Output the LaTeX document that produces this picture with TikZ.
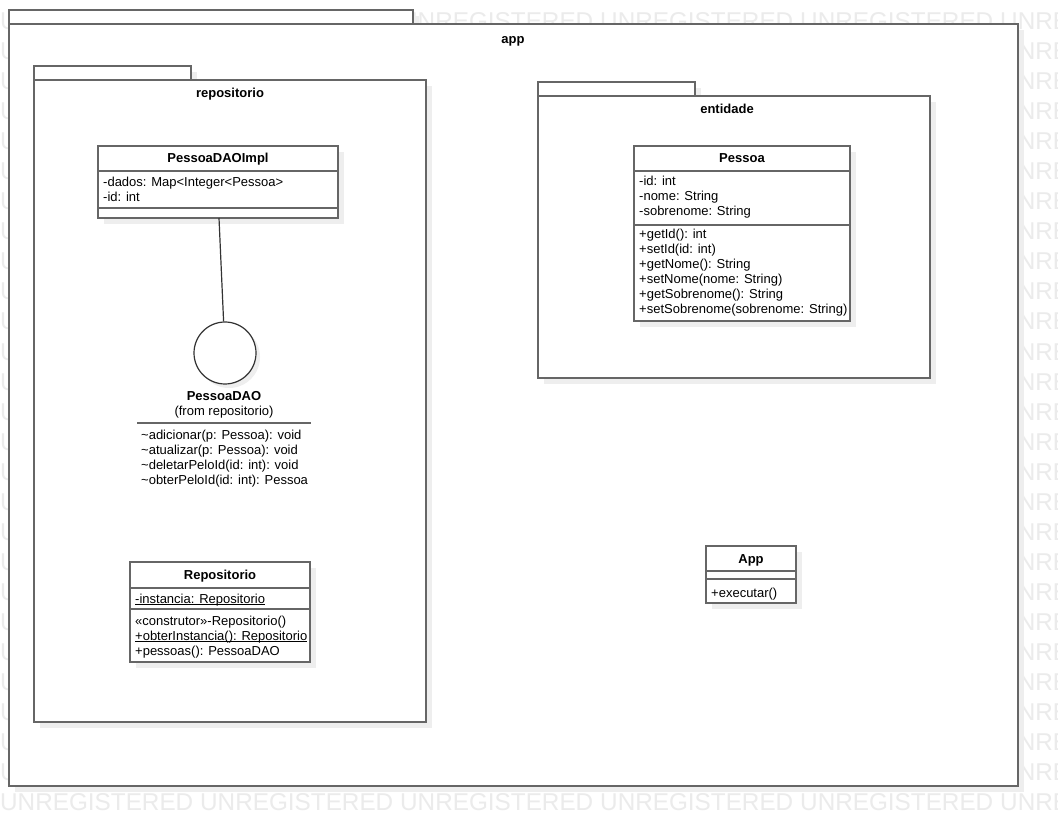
\documentclass[tikz,border=0pt]{standalone}
\usepackage{fontspec}
\setmainfont{Liberation Sans}
\definecolor{ln}{HTML}{666666}
\definecolor{wm}{HTML}{EBEBEB}
\definecolor{sh}{HTML}{EEEEEE}
\tikzset{
  pkgline/.style={draw=ln, line width=1.6pt, fill=white},
  box/.style={draw=ln, line width=1.6pt, fill=white, inner sep=0pt, outer sep=0pt, anchor=north west},
  divider/.style={draw=ln, line width=1.6pt},
  uline/.style={draw=black, line width=0.8pt},
  shade/.style={fill=sh},
  txt/.style={anchor=base west, inner sep=0pt, font=\fontsize{13}{15}\selectfont},
  ttl/.style={anchor=base, inner sep=0pt, font=\fontsize{13}{15}\selectfont\bfseries},
  sub/.style={anchor=base, inner sep=0pt, font=\fontsize{13}{15}\selectfont},
  wmark/.style={anchor=base west, inner sep=0pt, text=wm, font=\fontsize{24.3}{24.3}\selectfont},
  iface/.style={circle, draw=black!80, line width=1.2pt, fill=white, minimum size=62pt, inner sep=0pt},
  link/.style={draw=black!80, line width=1.2pt},
}
\begin{document}
\begin{tikzpicture}[x=1pt, y=-1pt]
\useasboundingbox (0,0) rectangle (1058,826);
\fill[white] (0,0) rectangle (1058,826);
% watermark
\foreach \r in {0,...,26} {
  \foreach \c in {0,...,5} {
    \node[wmark] (wm-\r-\c) at (200*\c, 30+30*\r) {UNREGISTERED};
  }
}
% ---------------- app package
\fill[shade] (15,16) rectangle (419,30);
\fill[shade] (15,30) rectangle (1024,792);
\draw[pkgline] (9,10) rectangle (413,24);
\node[box, minimum width=1009pt, minimum height=762pt] (app) at (9,24) {};
\node[ttl] (applbl) at (513,44) {app};
% ---------------- repositorio package
\fill[shade] (40,72) rectangle (197,86);
\fill[shade] (40,86) rectangle (432,728);
\draw[pkgline] (34,66) rectangle (191,80);
\node[box, minimum width=392pt, minimum height=642pt] (repo) at (34,80) {};
\node[ttl] (repolbl) at (230,98) {repositorio};
% ---------------- entidade package
\fill[shade] (544,88) rectangle (701,102);
\fill[shade] (544,102) rectangle (936,384);
\draw[pkgline] (538,82) rectangle (695,96);
\node[box, minimum width=392pt, minimum height=282pt] (ent) at (538,96) {};
\node[ttl] (entlbl) at (727,114) {entidade};
% ---------------- PessoaDAOImpl
\fill[shade] (104,152) rectangle (344,224);
\node[box, minimum width=240pt, minimum height=72pt] (impl) at (98,146) {};
\draw[divider] (98,171) -- (338,171);
\draw[divider] (98,208) -- (338,208);
\node[ttl] (impln) at (218,163) {PessoaDAOImpl};
\node[txt] (impla1) at (103,187) {-dados: Map<Integer<Pessoa>};
\node[txt] (impla2) at (103,202) {-id: int};
% ---------------- PessoaDAO interface
\fill[shade] (229,357) circle (31);
\node[iface] (dao) at (225,353) {};
\coordinate (implbot) at (219,218);
\draw[link] (implbot) -- (dao);
\node[ttl] (daon) at (224,400) {PessoaDAO};
\node[sub] (daof) at (224,415) {(from repositorio)};
\coordinate (daol) at (137,423);
\coordinate (daor) at (311,423);
\draw[divider] (daol) -- (daor);
\node[txt] (dao1) at (141,439) {\textasciitilde adicionar(p: Pessoa): void};
\node[txt] (dao2) at (141,454) {\textasciitilde atualizar(p: Pessoa): void};
\node[txt] (dao3) at (141,469) {\textasciitilde deletarPeloId(id: int): void};
\node[txt] (dao4) at (141,484) {\textasciitilde obterPeloId(id: int): Pessoa};
% ---------------- Repositorio
\fill[shade] (136,568) rectangle (316,668);
\node[box, minimum width=180pt, minimum height=100pt] (rep) at (130,562) {};
\draw[divider] (130,588) -- (310,588);
\draw[divider] (130,609) -- (310,609);
\node[ttl] (repn) at (220,579) {Repositorio};
\node[txt] (repa1) at (135,603) {-instancia: Repositorio};
\draw[uline] ([yshift=-1.6pt]repa1.base west) -- ([yshift=-1.6pt]repa1.base east);
\node[txt] (repo1) at (135,625) {«construtor»-Repositorio()};
\node[txt] (repo2) at (135,640) {+obterInstancia(): Repositorio};
\draw[uline] ([yshift=-1.6pt]repo2.base west) -- ([yshift=-1.6pt]repo2.base east);
\node[txt] (repo3) at (135,655) {+pessoas(): PessoaDAO};
% ---------------- Pessoa
\fill[shade] (640,152) rectangle (856,327);
\node[box, minimum width=216pt, minimum height=175pt] (pes) at (634,146) {};
\draw[divider] (634,171) -- (850,171);
\draw[divider] (634,225) -- (850,225);
\node[ttl] (pesn) at (742,163) {Pessoa};
\node[txt] (pesa1) at (639,186) {-id: int};
\node[txt] (pesa2) at (639,201) {-nome: String};
\node[txt] (pesa3) at (639,216) {-sobrenome: String};
\node[txt] (peso1) at (639,239) {+getId(): int};
\node[txt] (peso2) at (639,254) {+setId(id: int)};
\node[txt] (peso3) at (639,269) {+getNome(): String};
\node[txt] (peso4) at (639,284) {+setNome(nome: String)};
\node[txt] (peso5) at (639,299) {+getSobrenome(): String};
\node[txt] (peso6) at (639,314) {+setSobrenome(sobrenome: String)};
% ---------------- App
\fill[shade] (712,552) rectangle (802,609);
\node[box, minimum width=90pt, minimum height=57pt] (appc) at (706,546) {};
\draw[divider] (706,571) -- (796,571);
\draw[divider] (706,579) -- (796,579);
\node[ttl] (appn) at (751,563) {App};
\node[txt] (appo1) at (711,597) {+executar()};
\end{tikzpicture}
\end{document}
